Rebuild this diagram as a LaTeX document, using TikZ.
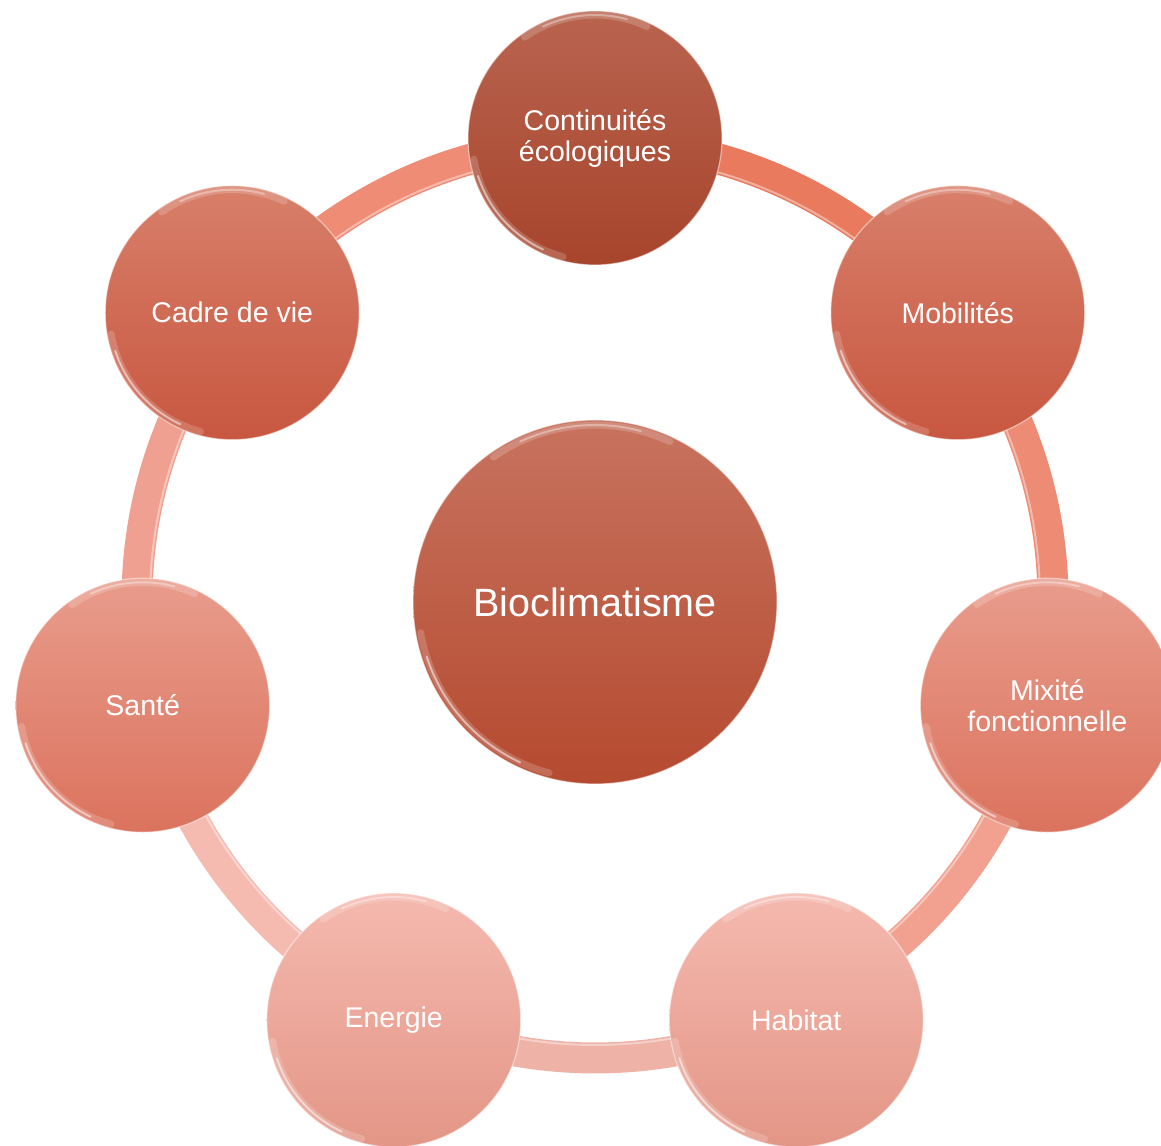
\documentclass[tikz,border=0pt]{standalone}
\usepackage{fontspec}
\setmainfont{Liberation Sans}
\usetikzlibrary{calc,shadings}
\definecolor{aTop}{HTML}{B9644F}\definecolor{aBot}{HTML}{A7442C}
\definecolor{bTop}{HTML}{D87F6A}\definecolor{bBot}{HTML}{C85740}
\definecolor{cTop}{HTML}{E99C8C}\definecolor{cBot}{HTML}{DB735E}
\definecolor{dTop}{HTML}{F5B9AF}\definecolor{dBot}{HTML}{E39686}
\definecolor{mTop}{HTML}{C8735F}\definecolor{mBot}{HTML}{B54A30}
\definecolor{sA}{HTML}{E97A5E}
\definecolor{sB}{HTML}{EE8B74}
\definecolor{sC}{HTML}{F2A08F}
\definecolor{sD}{HTML}{EEB2A7}
\definecolor{sE}{HTML}{F5BBB1}
\definecolor{sF}{HTML}{F0A090}
\definecolor{sG}{HTML}{EF8C76}
\tikzset{
  bub/.style={circle, minimum size=254pt, inner sep=0pt, text=white,
    font=\fontsize{28.5}{31}\selectfont, align=center,
    draw=white, draw opacity=0.5, line width=1.2pt},
  hub/.style={bub, minimum size=364pt, font=\fontsize{39.5}{44}\selectfont},
  seg/.style={line width=31pt},
  seghl/.style={white, opacity=0.4, line width=2pt},
  hlWide/.style={white, opacity=0.18, line width=7pt, line cap=round},
  hlA/.style={white, opacity=0.5, line width=2pt, line cap=round},
  hlB/.style={white, opacity=0.35, line width=2pt, line cap=round}
}
\newcommand{\ringseg}[3]{%
  \draw[seg, #1] ($(R)+(#2:458)$) arc[start angle=#2, end angle=#3, radius=458];
  \draw[seghl] ($(R)+(#2:445)$) arc[start angle=#2, end angle=#3, radius=445];
}
\newcommand{\bevel}[2]{%
  \draw[hlWide] ($(#1.center)+(190:#2)$) arc[start angle=190, end angle=255, radius=#2];
  \draw[hlA] ($(#1.center)+(198:#2)$) arc[start angle=198, end angle=245, radius=#2];
  \draw[hlWide] ($(#1.center)+(65:#2)$) arc[start angle=65, end angle=125, radius=#2];
  \draw[hlB] ($(#1.center)+(75:#2)$) arc[start angle=75, end angle=115, radius=#2];
}
\begin{document}
\begin{tikzpicture}[x=1pt,y=1pt]
\useasboundingbox (0,0) rectangle (1161,1145);
\clip (0,0) rectangle (1161,1145);
\coordinate (C) at (595,543);
\coordinate (R) at (595,545);
% ring segments
\ringseg{sA}{90}{38.57}
\ringseg{sB}{38.57}{-12.86}
\ringseg{sC}{-12.86}{-64.29}
\ringseg{sD}{-64.29}{-115.71}
\ringseg{sE}{-115.71}{-167.14}
\ringseg{sF}{-167.14}{-218.57}
\ringseg{sG}{141.43}{90}
% nodes
\node[hub, top color=mTop, bottom color=mBot] (bio) at (C) {Bioclimatisme};
\node[bub, top color=aTop, bottom color=aBot] (cont) at ($(C)+(90:464)$) {Continuités\\écologiques};
\node[bub, top color=bTop, bottom color=bBot] (mob) at ($(C)+(38.57:464)$) {Mobilités};
\node[bub, top color=cTop, bottom color=cBot] (mix) at ($(C)+(-12.86:464)$) {Mixité\\fonctionnelle};
\node[bub, top color=dTop, bottom color=dBot] (hab) at ($(C)+(-64.29:464)$) {Habitat};
\node[bub, top color=dTop, bottom color=dBot] (ene) at ($(C)+(-115.71:464)$) {Energie};
\node[bub, top color=cTop, bottom color=cBot] (san) at ($(C)+(-167.14:464)$) {Santé};
\node[bub, top color=bTop, bottom color=bBot] (cad) at ($(C)+(141.43:464)$) {Cadre de vie};
% bevel highlights
\bevel{bio}{177}
\bevel{cont}{123}
\bevel{mob}{123}
\bevel{mix}{123}
\bevel{hab}{123}
\bevel{ene}{123}
\bevel{san}{123}
\bevel{cad}{123}
\end{tikzpicture}
\end{document}
